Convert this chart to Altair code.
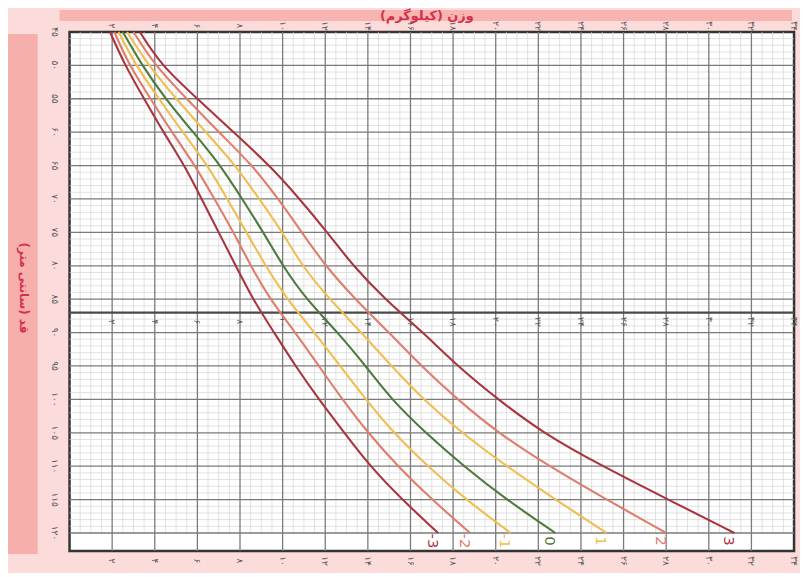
import altair as alt
import pandas as pd
import numpy as np

# ---------------- data ----------------
lengths = [45, 50, 55, 60, 65, 70, 75, 80, 85, 90, 95, 100, 105, 110, 115, 120]
sd_m3 = [1.9, 2.6, 3.5, 4.4, 5.4, 6.2, 7.0, 7.8, 8.6, 9.6, 10.6, 11.7, 12.9, 14.1, 15.6, 17.3]
sd_m2 = [2.1, 2.8, 3.8, 4.8, 5.9, 6.8, 7.7, 8.5, 9.4, 10.6, 11.7, 12.8, 14.0, 15.4, 17.0, 18.8]
sd_m1 = [2.3, 3.1, 4.2, 5.3, 6.5, 7.4, 8.3, 9.2, 10.2, 11.5, 12.7, 13.9, 15.2, 16.8, 18.6, 20.7]
sd_0 = [2.5, 3.4, 4.5, 5.8, 7.1, 8.1, 9.1, 10.0, 11.1, 12.6, 13.9, 15.1, 16.7, 18.5, 20.5, 22.8]
sd_p1 = [2.7, 3.7, 5.0, 6.4, 7.8, 8.9, 10.0, 10.9, 12.2, 13.7, 15.1, 16.6, 18.4, 20.5, 22.8, 25.2]
sd_p2 = [3.0, 4.0, 5.5, 7.0, 8.6, 9.8, 10.9, 12.0, 13.4, 15.0, 16.5, 18.2, 20.1, 22.5, 25.2, 28.0]
sd_p3 = [3.3, 4.3, 6.0, 7.7, 9.4, 10.8, 12.1, 13.3, 14.8, 16.6, 18.2, 20.1, 22.2, 25.0, 28.1, 31.2]

z_names = ["-3", "-2", "-1", "0", "1", "2", "3"]
z_series = [sd_m3, sd_m2, sd_m1, sd_0, sd_p1, sd_p2, sd_p3]
z_colors = ["#a8343f", "#df7d6c", "#f0be50", "#4d7a3c", "#f0be50", "#df7d6c", "#a8343f"]

weight_ticks = list(range(2, 35, 2))
length_ticks = list(range(45, 121, 5))

x_title = "وزن (کیلوگرم)"
y_title = "قد (سانتی متر)"

# ---------------- helpers ----------------
FA = str.maketrans("0123456789", "۰۱۲۳۴۵۶۷۸۹")
def fa(n):
    return str(n).translate(FA)

W, H = 730, 523
L_MIN, L_MAX = 45, 122.7
xs = alt.Scale(domain=[0, 34], nice=False, zero=False)
ys = alt.Scale(domain=[L_MIN, L_MAX], reverse=True, nice=False, zero=False)

curves = pd.DataFrame(
    [{"L": L, "w": w, "z": z} for z, s in zip(z_names, z_series) for L, w in zip(lengths, s)]
)
ends = pd.DataFrame({"z": z_names, "w": [s[-1] - 0.25 for s in z_series], "L": [121.2] * 7})

minor_v = pd.DataFrame({"w": [v for v in np.arange(0.5, 34, 0.5) if v % 2 != 0],
                        "y1": 45, "y2": 120})
minor_h = pd.DataFrame({"L": [v for v in range(46, 120) if v % 5 != 0], "x1": 0, "x2": 34})
major_v = pd.DataFrame({"w": weight_ticks[:-1], "y1": L_MIN, "y2": L_MAX})
major_h = pd.DataFrame({"L": length_ticks[1:], "x1": 0, "x2": 34})
mid_line = pd.DataFrame({"L": [87], "x1": [0], "x2": [34]})

wlab = pd.DataFrame({"w": weight_ticks, "t": [fa(v) for v in weight_ticks], "Lm": 88.4})
llab = pd.DataFrame({"L": length_ticks, "t": [fa(v) for v in length_ticks]})

one = pd.DataFrame({"a": [0]})
GRID_MINOR = "#d3d3d3"
GRID_MAJOR = "#7a7a7a"
LBL = "#555555"

color_scale = alt.Scale(domain=z_names, range=z_colors)

banner = alt.Chart(one).mark_rect(color="#f8b4b1").encode(
    x=alt.value(-10), x2=alt.value(728), y=alt.value(-22), y2=alt.value(-11))
leftband = alt.Chart(one).mark_rect(color="#f7afac").encode(
    x=alt.value(-62), x2=alt.value(-32), y=alt.value(2), y2=alt.value(526))
title_top = alt.Chart(one).mark_text(fontSize=13, fontWeight="bold", color="#d3304c").encode(
    x=alt.value(360), y=alt.value(-16), text=alt.value(x_title))
title_left = alt.Chart(one).mark_text(fontSize=12, fontWeight="bold", color="#d3304c", angle=90).encode(
    x=alt.value(-46), y=alt.value(258), text=alt.value(y_title))

r_minor_v = alt.Chart(minor_v).mark_rule(color=GRID_MINOR, strokeWidth=0.7).encode(
    x=alt.X("w:Q", scale=xs, axis=None), y=alt.Y("y1:Q", scale=ys, axis=None), y2="y2:Q")
r_minor_h = alt.Chart(minor_h).mark_rule(color=GRID_MINOR, strokeWidth=0.7).encode(
    y=alt.Y("L:Q", scale=ys, axis=None), x=alt.X("x1:Q", scale=xs, axis=None), x2="x2:Q")
r_major_v = alt.Chart(major_v).mark_rule(color=GRID_MAJOR, strokeWidth=1.3).encode(
    x=alt.X("w:Q", scale=xs, axis=None), y=alt.Y("y1:Q", scale=ys, axis=None), y2="y2:Q")
r_major_h = alt.Chart(major_h).mark_rule(color=GRID_MAJOR, strokeWidth=1.3).encode(
    y=alt.Y("L:Q", scale=ys, axis=None), x=alt.X("x1:Q", scale=xs, axis=None), x2="x2:Q")
r_mid = alt.Chart(mid_line).mark_rule(color="#4a4a4a", strokeWidth=2.2).encode(
    y=alt.Y("L:Q", scale=ys, axis=None), x=alt.X("x1:Q", scale=xs, axis=None), x2="x2:Q")

top_lab = alt.Chart(wlab).mark_text(angle=90, fontSize=9, color=LBL).encode(
    x=alt.X("w:Q", scale=xs, axis=None), y=alt.value(-6), text="t:N")
bot_lab = alt.Chart(wlab).mark_text(angle=90, fontSize=9, color=LBL).encode(
    x=alt.X("w:Q", scale=xs, axis=None), y=alt.value(H + 10), text="t:N")
mid_lab = alt.Chart(wlab).mark_text(angle=90, fontSize=9, color=LBL).encode(
    x=alt.X("w:Q", scale=xs, axis=None), y=alt.Y("Lm:Q", scale=ys, axis=None), text="t:N")
left_lab = alt.Chart(llab).mark_text(angle=90, fontSize=9, color=LBL).encode(
    x=alt.value(-15), y=alt.Y("L:Q", scale=ys, axis=None), text="t:N")

lines = alt.Chart(curves).mark_line(interpolate="basis", strokeWidth=2.1).encode(
    x=alt.X("w:Q", scale=xs, axis=None),
    y=alt.Y("L:Q", scale=ys, axis=None),
    color=alt.Color("z:N", scale=color_scale, legend=None),
    order=alt.Order("L:Q"),
    detail="z:N",
)
zlab = alt.Chart(ends).mark_text(angle=90, fontSize=15).encode(
    x=alt.X("w:Q", scale=xs, axis=None),
    y=alt.Y("L:Q", scale=ys, axis=None),
    text="z:N",
    color=alt.Color("z:N", scale=color_scale, legend=None),
)

chart = alt.layer(
    banner, leftband, title_top, title_left,
    r_minor_v, r_minor_h, r_major_v, r_major_h, r_mid,
    top_lab, bot_lab, mid_lab, left_lab,
    lines, zlab,
).properties(
    width=W, height=H,
    autosize=alt.AutoSizeParams(type="none"),
    padding={"left": 62, "top": 22, "right": 6, "bottom": 20},
).configure(
    background="#fcdcda",
    font="DejaVu Sans",
).configure_view(
    fill="white", stroke="#333333", strokeWidth=2.5,
)

chart.save("out.html", embed_options={"renderer": "svg", "actions": False})
